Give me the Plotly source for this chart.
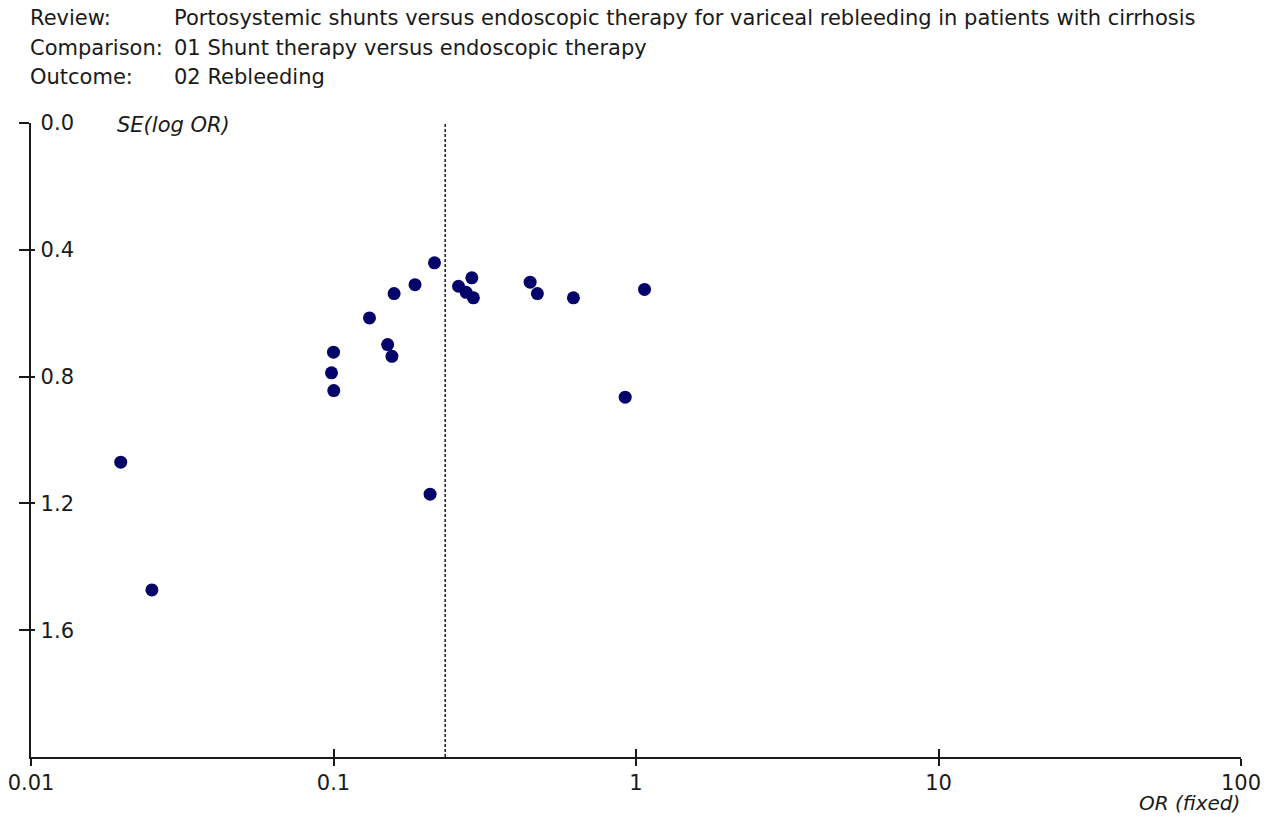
import plotly.graph_objects as go

# Funnel plot: Portosystemic shunts vs endoscopic therapy, outcome rebleeding
odds_ratio = [0.0198, 0.0251, 0.100, 0.0985, 0.1002, 0.1315, 0.151, 0.156,
              0.1586, 0.186, 0.2157, 0.2086, 0.259, 0.2866, 0.2745, 0.290,
              0.4467, 0.472, 0.621, 1.067, 0.921]
se_log_or = [1.070, 1.473, 0.723, 0.788, 0.844, 0.615, 0.699, 0.736,
             0.538, 0.510, 0.441, 1.171, 0.515, 0.4885, 0.534, 0.5515,
             0.502, 0.538, 0.5515, 0.525, 0.865]
pooled_or = 0.234

x_tickvals = [0.01, 0.1, 1, 10, 100]
x_ticktext = ["0.01", "0.1", "1", "10", "100"]
y_tickvals = [0.0, 0.4, 0.8, 1.2, 1.6]
y_ticktext = ["0.0", "0.4", "0.8", "1.2", "1.6"]

header_labels = ["Review:", "Comparison:", "Outcome:"]
header_values = [
    "Portosystemic shunts versus endoscopic therapy for variceal rebleeding in patients with cirrhosis",
    "01 Shunt therapy versus endoscopic therapy",
    "02 Rebleeding",
]

W, H = 1269, 823
L, R, T, B = 31, 28, 123, 66
PW, PH = W - L - R, H - T - B
FONT = "DejaVu Sans, Verdana, sans-serif"
FS = 21
INK = "#1a1a1a"


def px(xp):
    return (xp - L) / PW


def py(yp):
    return (H - B - yp) / PH


fig = go.Figure()
fig.add_trace(go.Scatter(
    x=odds_ratio, y=se_log_or, mode="markers",
    marker=dict(size=13, color="#03036a", line=dict(width=0)),
    hoverinfo="x+y", showlegend=False,
))
# invisible copies that anchor the overlay axes (inner tick halves, y labels)
for xa, ya in (("x2", "y2"), ("x", "y3")):
    fig.add_trace(go.Scatter(
        x=odds_ratio, y=se_log_or, mode="markers", xaxis=xa, yaxis=ya,
        marker=dict(size=1, opacity=0), hoverinfo="skip", showlegend=False,
    ))

axis_font = dict(family=FONT, size=FS, color=INK)
xcommon = dict(type="log", range=[-2, 2], tickvals=x_tickvals, showgrid=False,
               zeroline=False, automargin=False)
ycommon = dict(range=[2, 0], tickvals=y_tickvals, showgrid=False, zeroline=False,
               automargin=False)

fig.update_layout(
    width=W, height=H,
    margin=dict(l=L, r=R, t=T, b=B, pad=0, autoexpand=False),
    paper_bgcolor="white", plot_bgcolor="white",
    font=axis_font,
    xaxis=dict(**xcommon, ticktext=x_ticktext, ticks="outside", ticklen=7,
               tickwidth=1.5, tickcolor=INK, showline=True,
               linecolor=INK, linewidth=2, tickfont=axis_font,
               ticklabelstandoff=-1),
    yaxis=dict(**ycommon, ticks="outside", ticklen=10, tickwidth=1.5,
               tickcolor=INK, showline=True, linecolor=INK, linewidth=2,
               showticklabels=False),
    xaxis2=dict(**xcommon, overlaying="x", ticks="inside", ticklen=8,
                tickwidth=1.5, tickcolor=INK, showticklabels=False,
                showline=False),
    yaxis2=dict(**ycommon, overlaying="y", ticks="inside", ticklen=4,
                tickwidth=1.5, tickcolor=INK, showticklabels=False,
                showline=False, side="left"),
    # tick labels sit just right of the axis line
    yaxis3=dict(**ycommon, ticktext=y_ticktext, overlaying="y", anchor="free",
                position=px(74), side="left", ticks="", showline=False,
                tickfont=axis_font, ticklabelstandoff=0),
    shapes=[dict(type="line", xref="x", yref="paper", x0=pooled_or, x1=pooled_or,
                 y0=0, y1=1, line=dict(color=INK, width=1.5, dash="3px,2px"))],
)

annotations = []
header_y = [18, 48, 77]
for lab, val, yp in zip(header_labels, header_values, header_y):
    annotations.append(dict(text=lab, x=px(28), y=py(yp), xref="paper", yref="paper",
                            xanchor="left", yanchor="middle", showarrow=False,
                            font=dict(family=FONT, size=FS, color=INK)))
    annotations.append(dict(text=val, x=px(172), y=py(yp), xref="paper", yref="paper",
                            xanchor="left", yanchor="middle", showarrow=False,
                            font=dict(family=FONT, size=FS, color=INK)))
annotations.append(dict(text="<i>SE(log OR)</i>", x=px(115), y=py(125), xref="paper",
                        yref="paper", xanchor="left", yanchor="middle", showarrow=False,
                        font=dict(family=FONT, size=FS, color=INK)))
annotations.append(dict(text="<i>OR (fixed)</i>", x=px(1242), y=py(803), xref="paper",
                        yref="paper", xanchor="right", yanchor="middle", showarrow=False,
                        font=dict(family=FONT, size=FS - 1, color=INK)))
fig.update_layout(annotations=annotations)

fig.write_html("out.html")
